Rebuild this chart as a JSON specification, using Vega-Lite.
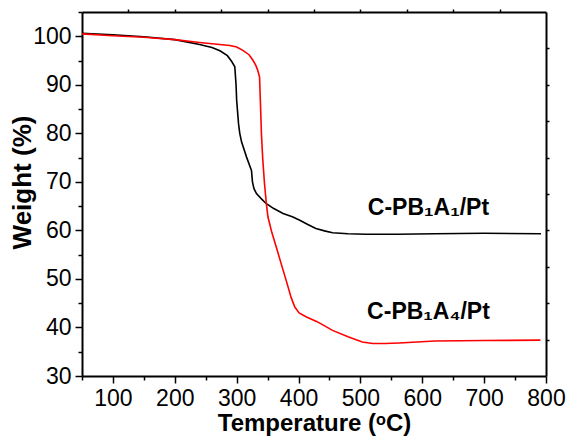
{
  "$schema": "https://vega.github.io/schema/vega-lite/v6.json",
  "autosize": {"type": "none"},
  "width": 464,
  "height": 364,
  "padding": {"left": 82, "top": 12, "right": 24, "bottom": 61},
  "background": "white",
  "config": {
    "view": {"stroke": null},
    "font": "Liberation Sans",
    "axis": {"grid": false, "domainColor": "black", "domainWidth": 2, "tickColor": "black", "tickWidth": 1.5, "labelColor": "black", "titleColor": "black", "labelFont": "Liberation Sans", "titleFont": "Liberation Sans", "labelFontSize": 23, "titleFontSize": 24, "titleFontWeight": "bold", "labelFontWeight": "normal"}
  },
  "datasets": {
    "tga": [
      {"series": "C-PB1A1", "t": 50, "w": 100.6},
      {"series": "C-PB1A1", "t": 100, "w": 100.3},
      {"series": "C-PB1A1", "t": 150, "w": 99.9},
      {"series": "C-PB1A1", "t": 200, "w": 99.3},
      {"series": "C-PB1A1", "t": 240, "w": 98.3},
      {"series": "C-PB1A1", "t": 260, "w": 97.7},
      {"series": "C-PB1A1", "t": 273, "w": 97.0},
      {"series": "C-PB1A1", "t": 285, "w": 96.0},
      {"series": "C-PB1A1", "t": 292, "w": 94.8},
      {"series": "C-PB1A1", "t": 297, "w": 93.7},
      {"series": "C-PB1A1", "t": 299, "w": 90.0},
      {"series": "C-PB1A1", "t": 300, "w": 86.8},
      {"series": "C-PB1A1", "t": 303, "w": 82.0},
      {"series": "C-PB1A1", "t": 305, "w": 80.0},
      {"series": "C-PB1A1", "t": 308, "w": 78.2},
      {"series": "C-PB1A1", "t": 316, "w": 75.1},
      {"series": "C-PB1A1", "t": 322, "w": 73.0},
      {"series": "C-PB1A1", "t": 324, "w": 72.3},
      {"series": "C-PB1A1", "t": 325.5, "w": 70.0},
      {"series": "C-PB1A1", "t": 328, "w": 68.6},
      {"series": "C-PB1A1", "t": 332, "w": 67.6},
      {"series": "C-PB1A1", "t": 340, "w": 66.5},
      {"series": "C-PB1A1", "t": 348, "w": 65.5},
      {"series": "C-PB1A1", "t": 360, "w": 64.5},
      {"series": "C-PB1A1", "t": 375, "w": 63.5},
      {"series": "C-PB1A1", "t": 390, "w": 62.8},
      {"series": "C-PB1A1", "t": 402, "w": 62.1},
      {"series": "C-PB1A1", "t": 415, "w": 61.2},
      {"series": "C-PB1A1", "t": 428, "w": 60.4},
      {"series": "C-PB1A1", "t": 442, "w": 59.9},
      {"series": "C-PB1A1", "t": 455, "w": 59.5},
      {"series": "C-PB1A1", "t": 480, "w": 59.3},
      {"series": "C-PB1A1", "t": 509, "w": 59.2},
      {"series": "C-PB1A1", "t": 560, "w": 59.2},
      {"series": "C-PB1A1", "t": 620, "w": 59.3},
      {"series": "C-PB1A1", "t": 700, "w": 59.4},
      {"series": "C-PB1A1", "t": 792, "w": 59.3},
      {"series": "C-PB1A4", "t": 50, "w": 100.5},
      {"series": "C-PB1A4", "t": 100, "w": 100.1},
      {"series": "C-PB1A4", "t": 150, "w": 99.8},
      {"series": "C-PB1A4", "t": 200, "w": 99.3},
      {"series": "C-PB1A4", "t": 240, "w": 98.7},
      {"series": "C-PB1A4", "t": 289, "w": 98.1},
      {"series": "C-PB1A4", "t": 300, "w": 97.8},
      {"series": "C-PB1A4", "t": 310, "w": 97.1},
      {"series": "C-PB1A4", "t": 320, "w": 96.2},
      {"series": "C-PB1A4", "t": 326, "w": 95.1},
      {"series": "C-PB1A4", "t": 331, "w": 94.0},
      {"series": "C-PB1A4", "t": 334, "w": 93.0},
      {"series": "C-PB1A4", "t": 337, "w": 91.6},
      {"series": "C-PB1A4", "t": 338.5, "w": 86.0},
      {"series": "C-PB1A4", "t": 340, "w": 80.0},
      {"series": "C-PB1A4", "t": 342, "w": 75.0},
      {"series": "C-PB1A4", "t": 345, "w": 69.6},
      {"series": "C-PB1A4", "t": 348, "w": 65.5},
      {"series": "C-PB1A4", "t": 350.5, "w": 62.8},
      {"series": "C-PB1A4", "t": 357, "w": 59.5},
      {"series": "C-PB1A4", "t": 364, "w": 56.6},
      {"series": "C-PB1A4", "t": 372, "w": 53.1},
      {"series": "C-PB1A4", "t": 380, "w": 49.7},
      {"series": "C-PB1A4", "t": 388, "w": 46.2},
      {"series": "C-PB1A4", "t": 394, "w": 44.2},
      {"series": "C-PB1A4", "t": 401, "w": 43.0},
      {"series": "C-PB1A4", "t": 412, "w": 42.2},
      {"series": "C-PB1A4", "t": 430, "w": 41.2},
      {"series": "C-PB1A4", "t": 455, "w": 39.4},
      {"series": "C-PB1A4", "t": 480, "w": 38.1},
      {"series": "C-PB1A4", "t": 503, "w": 37.0},
      {"series": "C-PB1A4", "t": 520, "w": 36.7},
      {"series": "C-PB1A4", "t": 540, "w": 36.7},
      {"series": "C-PB1A4", "t": 563, "w": 36.8},
      {"series": "C-PB1A4", "t": 620, "w": 37.2},
      {"series": "C-PB1A4", "t": 700, "w": 37.3},
      {"series": "C-PB1A4", "t": 791, "w": 37.4}
    ],
    "labels": [
      {"label": "C-PB₁A₁/Pt", "t": 610, "w": 64.6},
      {"label": "C-PB₁A₄/Pt", "t": 610, "w": 43.1}
    ]
  },
  "layer": [
    {
      "data": {"name": "tga"},
      "mark": {"type": "line", "strokeWidth": 1.6},
      "encoding": {
        "x": {"field": "t", "type": "quantitative", "scale": {"domain": [50, 800], "nice": false, "zero": false},
              "axis": {"orient": "bottom", "title": "Temperature (ᵒC)", "values": [100, 200, 300, 400, 500, 600, 700, 800], "tickSize": 7, "labelPadding": 4, "titlePadding": 1, "labelFlush": false}},
        "y": {"field": "w", "type": "quantitative", "scale": {"domain": [30, 105], "nice": false, "zero": false},
              "axis": {"orient": "left", "title": "Weight (%)", "titleFontSize": 26, "titleY": 170, "values": [30, 40, 50, 60, 70, 80, 90, 100], "tickSize": 7, "labelPadding": 4, "titlePadding": -3, "labelFlush": false}},
        "color": {"field": "series", "type": "nominal", "scale": {"domain": ["C-PB1A1", "C-PB1A4"], "range": ["#000000", "#ff0000"]}, "legend": null},
        "order": {"field": "t", "type": "quantitative"}
      }
    },
    {
      "data": {"name": "tga"},
      "mark": {"type": "point", "opacity": 0},
      "encoding": {
        "x": {"field": "t", "type": "quantitative",
              "axis": {"orient": "bottom", "title": null, "labels": false, "values": [50, 150, 250, 350, 450, 550, 650, 750], "tickSize": 4, "domain": false}},
        "y": {"field": "w", "type": "quantitative",
              "axis": {"orient": "left", "title": null, "labels": false, "values": [35, 45, 55, 65, 75, 85, 95, 105], "tickSize": 4, "domain": false}}
      }
    },
    {
      "data": {"name": "tga"},
      "mark": {"type": "point", "opacity": 0},
      "encoding": {
        "x": {"field": "t", "type": "quantitative",
              "axis": {"orient": "top", "title": null, "labels": false, "values": [125, 200, 275, 350, 425, 500, 575, 650, 725], "tickSize": 3}},
        "y": {"field": "w", "type": "quantitative",
              "axis": {"orient": "right", "title": null, "labels": false, "values": [37.5, 45, 52.5, 60, 67.5, 75, 82.5, 90, 97.5], "tickSize": 3}}
      }
    },
    {
      "data": {"name": "labels"},
      "mark": {"type": "text", "font": "Liberation Sans", "fontWeight": "bold", "fontSize": 23, "color": "black", "align": "center", "baseline": "middle"},
      "encoding": {
        "x": {"field": "t", "type": "quantitative", "axis": null},
        "y": {"field": "w", "type": "quantitative", "axis": null},
        "text": {"field": "label"}
      }
    }
  ],
  "resolve": {"axis": {"x": "independent", "y": "independent"}}
}
